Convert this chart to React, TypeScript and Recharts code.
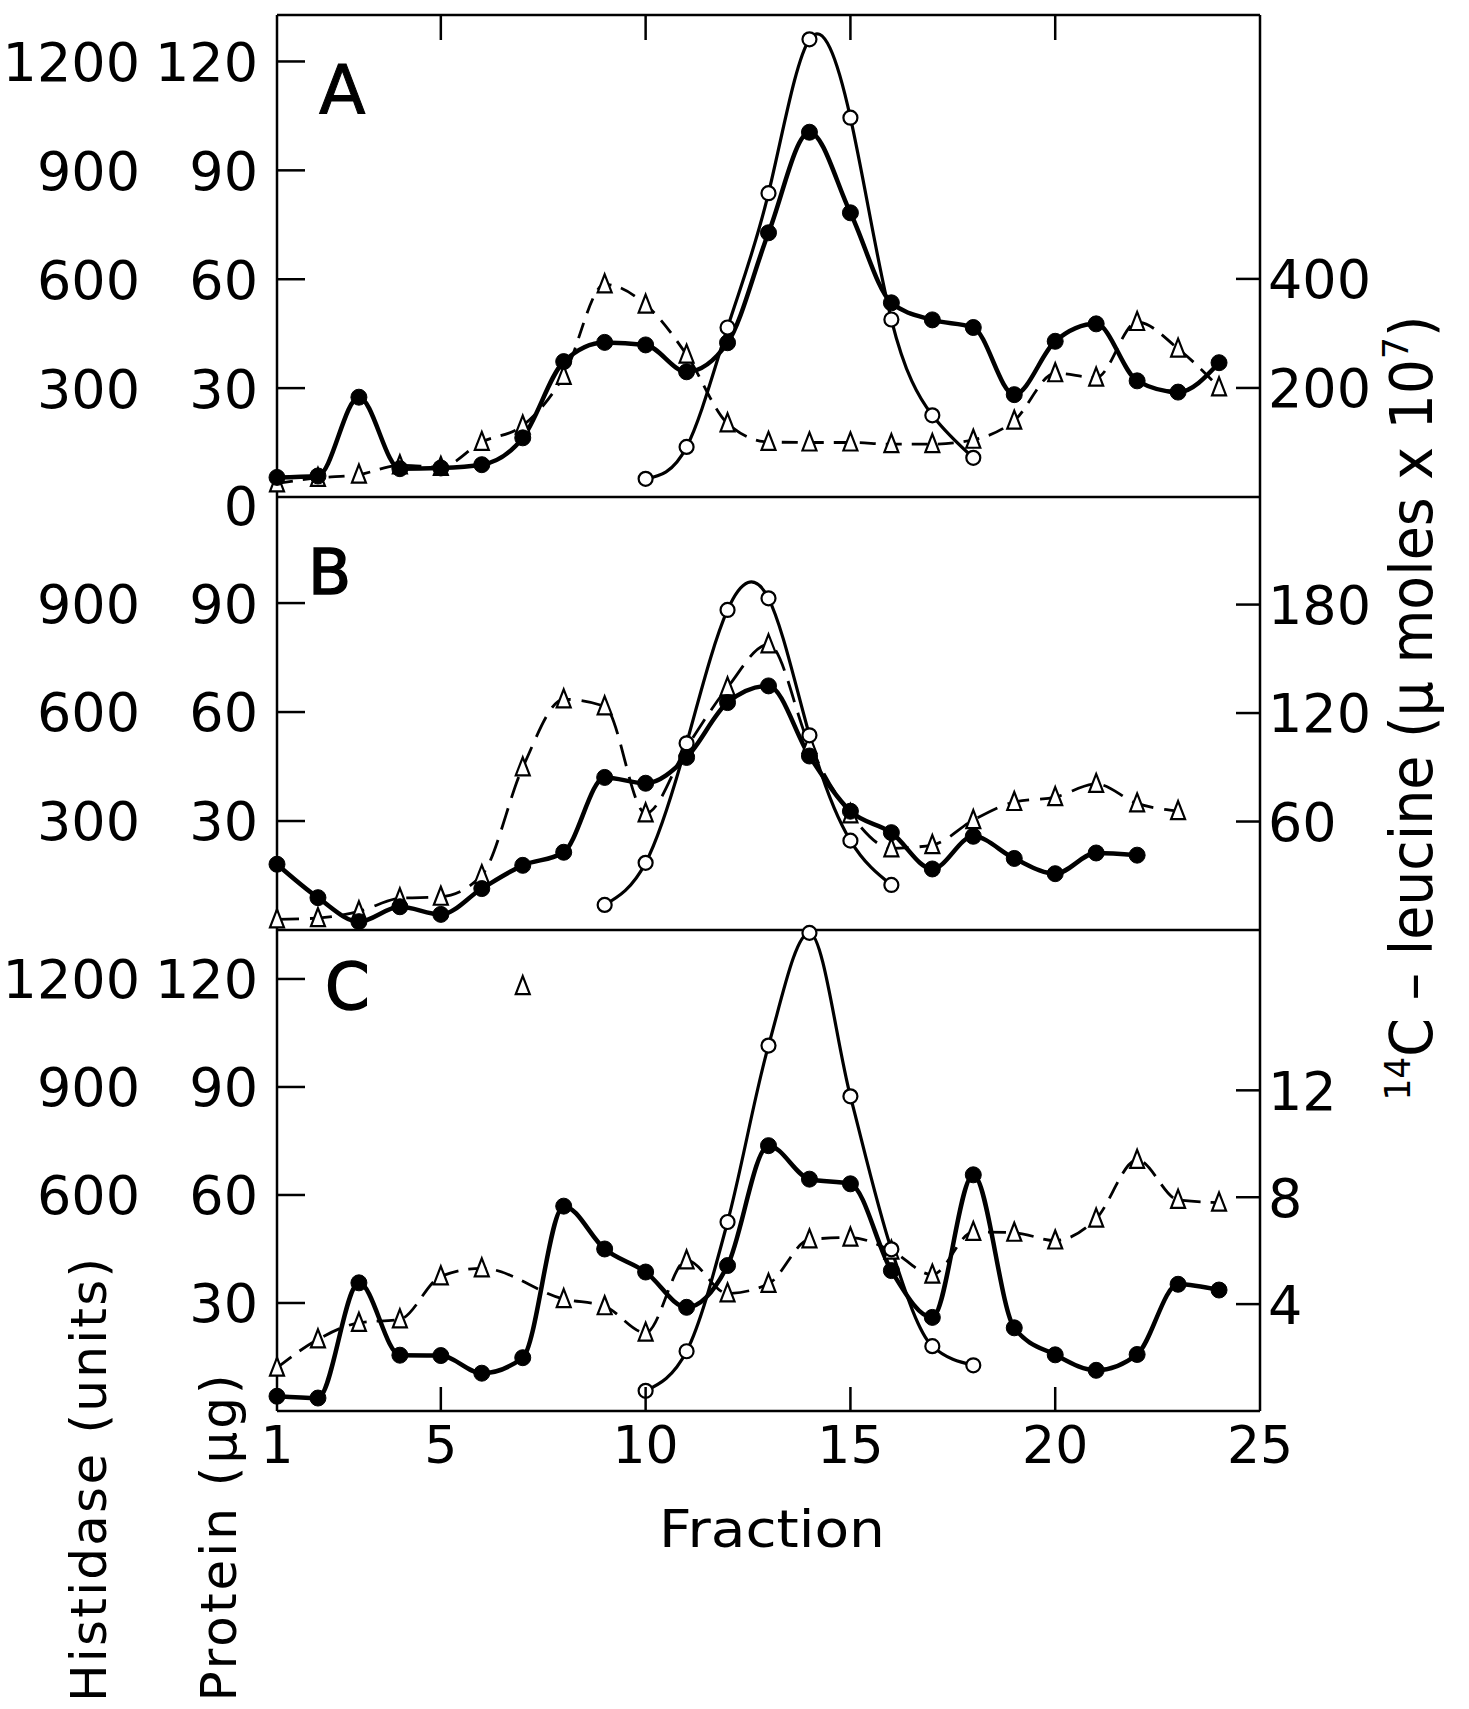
import { LineChart, Line, XAxis, YAxis } from 'recharts';

// fraction number on the x axis
const fractions = [1, 2, 3, 4, 5, 6, 7, 8, 9, 10, 11, 12, 13, 14, 15, 16, 17, 18, 19, 20, 21, 22, 23, 24];

// panel A
const proteinA = [5.4, 5.8, 27.5, 7.8, 8.0, 8.9, 16.3, 37.3, 42.6, 41.9, 34.5, 42.5, 72.8, 100.5, 78.3, 53.5, 48.8, 46.7, 28.2, 42.9, 47.7, 32.0, 28.9, 37.0];
const histidaseA = [null, null, null, null, null, null, null, null, null, 50, 138, 467, 837, 1261, 1045, 489, 225, 108, null, null, null, null, null, null];
const leucineA = [25, 35, 41, 58, 55, 101, 131, 222, 390, 353, 261, 135, 101, 100, 100, 97, 97, 105, 140, 227, 219, 321, 272, 201];

// panel B
const proteinB = [18.1, 8.9, 2.3, 6.4, 4.3, 11.4, 17.8, 21.4, 42.0, 40.4, 47.5, 62.6, 67.2, 47.9, 32.7, 26.8, 16.8, 25.8, 19.7, 15.5, 21.2, 20.6, null, null];
const histidaseB = [null, null, null, null, null, null, null, null, 69, 185, 514, 881, 913, 536, 246, 124, null, null, null, null, null, null, null, null];
const leucineB = [5.9, 6.6, 10.3, 17.5, 18.4, 30.3, 90, 127.6, 123.7, 64.5, 101, 134.2, 158, 102.3, 64, 45.2, 47, 60.8, 70.8, 73.5, 80.8, 70, 65.8, null];

// panel C
const proteinC = [4.1, 3.6, 35.6, 15.5, 15.4, 10.5, 14.8, 56.9, 45.0, 38.6, 28.8, 40.4, 73.7, 64.4, 63.1, 39.0, 26.0, 65.6, 23.1, 15.6, 11.3, 15.7, 35.2, 33.6];
const histidaseC = [null, null, null, null, null, null, null, null, null, 56, 166, 525, 1015, 1328, 874, 449, 180, 127, null, null, null, null, null, null];
const leucineC = [1.62, 2.68, 3.3, 3.43, 5.04, 5.34, null, 4.19, 3.92, 2.93, 5.64, 4.4, 4.76, 6.42, 6.49, 6.0, 5.1, 6.7, 6.67, 6.38, 7.2, 9.4, 7.9, 7.8];
const leucineCStray = [null, null, null, null, null, null, 15.9, null, null, null, null, null, null, null, null, null, null, null, null, null, null, null, null, null];

// tick labels
const proteinTicksA = [0, 30, 60, 90, 120];
const proteinTicksB = [30, 60, 90];
const proteinTicksC = [30, 60, 90, 120];
const histidaseTicksA = [300, 600, 900, 1200];
const histidaseTicksB = [300, 600, 900];
const histidaseTicksC = [600, 900, 1200];
const fractionTicks = [1, 5, 10, 15, 20, 25];
const innerFractionTicks = [5, 10, 15, 20];
const leucineTicksA = [200, 400];
const leucineTicksB = [60, 120, 180];
const leucineTicksC = [4, 8, 12];

const FONT = '"DejaVu Sans", "Liberation Sans", sans-serif';
const W = 1469;
const LEFT_W = 277;
const RIGHT_W = 209;
const PLOT_L = LEFT_W;
const PLOT_R = W - RIGHT_W;
const AXIS = { stroke: '#000', strokeWidth: 2.5 };
const noMargin = { top: 0, right: 0, bottom: 0, left: 0 };

const rows = (p: (number | null)[], h: (number | null)[], l: (number | null)[], s?: (number | null)[]) =>
  fractions.map((f, i) => ({
    fraction: f,
    protein: p[i],
    histidase: h[i],
    leucine: l[i],
    stray: s ? s[i] : null,
  }));

const rowsA = rows(proteinA, histidaseA, leucineA);
const rowsB = rows(proteinB, histidaseB, leucineB);
const rowsC = rows(proteinC, histidaseC, leucineC, leucineCStray);

const makeLeftTick = (his: number[]) => (p: any) => {
  const v = p.payload.value;
  const showHis = his.includes(v * 10);
  return (
    <g key={`l${v}`}>
      {v > 0 && <line x1={PLOT_L} x2={PLOT_L + 28} y1={p.y} y2={p.y} stroke="#000" strokeWidth={2.5} />}
      <text
        x={PLOT_L - 19}
        y={v === 0 ? p.y + 9 : p.y}
        dy="0.36em"
        textAnchor="end"
        fontSize={54}
        fontFamily={FONT}
        fill="#000"
      >
        {v}
      </text>
      {showHis && (
        <text x={140} y={p.y} dy="0.36em" textAnchor="end" fontSize={54} fontFamily={FONT} fill="#000">
          {v * 10}
        </text>
      )}
    </g>
  );
};

const renderRightTick = (p: any) => (
  <g key={`r${p.payload.value}`}>
    <line x1={PLOT_R - 24} x2={PLOT_R} y1={p.y} y2={p.y} stroke="#000" strokeWidth={2.5} />
    <text x={PLOT_R + 8} y={p.y} dy="0.36em" textAnchor="start" fontSize={54} fontFamily={FONT} fill="#000">
      {p.payload.value}
    </text>
  </g>
);

const renderTopTick = (p: any) => (
  <line key={`t${p.payload.value}`} x1={p.x} x2={p.x} y1={p.y} y2={p.y + 25} stroke="#000" strokeWidth={2.5} />
);

const renderBottomTick = (p: any) => {
  const v = p.payload.value;
  return (
    <g key={`b${v}`}>
      {v > 1 && v < 25 && <line x1={p.x} x2={p.x} y1={p.y} y2={p.y - 24} stroke="#000" strokeWidth={2.5} />}
      <text x={p.x} y={p.y + 52} textAnchor="middle" fontSize={52} fontFamily={FONT} fill="#000">
        {v}
      </text>
    </g>
  );
};

const triangleDot = (p: any) => {
  const { cx, cy, index, value } = p;
  if (cx == null || cy == null || value == null) return <g key={`d${index}`} />;
  return (
    <path
      key={`d${index}`}
      d={`M${cx},${cy - 10} L${cx + 7},${cy + 8} L${cx - 7},${cy + 8} Z`}
      fill="#fff"
      stroke="#000"
      strokeWidth={2.2}
    />
  );
};

function Panel({
  data,
  height,
  top,
  topAxisH,
  bottomAxisH,
  leftMax,
  rightMax,
  leftTicks,
  hisTicks,
  rightTicks,
  topTicks,
  showBottom,
  dash,
  hisCurve,
}: any) {
  return (
    <div style={{ position: 'absolute', left: 0, top }}>
      <LineChart width={W} height={height} data={data} margin={noMargin}>
        <XAxis
          xAxisId="top"
          dataKey="fraction"
          type="number"
          domain={[1, 25]}
          orientation="top"
          height={topAxisH}
          ticks={topTicks ?? []}
          interval={0}
          tick={topTicks ? renderTopTick : false}
          tickLine={false}
          tickSize={0}
          tickMargin={0}
          axisLine={AXIS}
        />
        {showBottom ? (
          <XAxis
            xAxisId="x"
            dataKey="fraction"
            type="number"
            domain={[1, 25]}
            orientation="bottom"
            height={bottomAxisH}
            ticks={fractionTicks}
            interval={0}
            tick={renderBottomTick}
            tickLine={false}
            tickSize={0}
            tickMargin={0}
            axisLine={AXIS}
          />
        ) : (
          <XAxis xAxisId="x" dataKey="fraction" type="number" domain={[1, 25]} hide height={0} />
        )}
        <YAxis
          yAxisId="histidase"
          type="number"
          domain={[0, leftMax * 10]}
          hide
          width={0}
          axisLine={false}
          tick={false}
        />
        <YAxis
          yAxisId="protein"
          orientation="left"
          type="number"
          width={LEFT_W}
          domain={[0, leftMax]}
          ticks={leftTicks}
          interval={0}
          tick={makeLeftTick(hisTicks)}
          tickLine={false}
          tickSize={0}
          tickMargin={0}
          axisLine={AXIS}
        />
        <YAxis
          yAxisId="leucine"
          orientation="right"
          type="number"
          width={RIGHT_W}
          domain={[0, rightMax]}
          ticks={rightTicks}
          interval={0}
          tick={renderRightTick}
          tickLine={false}
          tickSize={0}
          tickMargin={0}
          axisLine={AXIS}
        />
        <Line
          xAxisId="x"
          yAxisId="leucine"
          dataKey="leucine"
          type="monotone"
          stroke="#000"
          strokeWidth={2.8}
          strokeDasharray={dash}
          connectNulls
          dot={triangleDot}
          activeDot={false}
          isAnimationActive={false}
        />
        <Line
          xAxisId="x"
          yAxisId="leucine"
          dataKey="stray"
          stroke="none"
          dot={triangleDot}
          activeDot={false}
          isAnimationActive={false}
        />
        <Line
          xAxisId="x"
          yAxisId="histidase"
          dataKey="histidase"
          type={hisCurve}
          stroke="#000"
          strokeWidth={3.2}
          dot={{ r: 7, fill: '#fff', stroke: '#000', strokeWidth: 2.2 }}
          activeDot={false}
          isAnimationActive={false}
        />
        <Line
          xAxisId="x"
          yAxisId="protein"
          dataKey="protein"
          type="monotone"
          stroke="#000"
          strokeWidth={4.5}
          dot={{ r: 8, fill: '#000', stroke: '#000', strokeWidth: 1 }}
          activeDot={false}
          isAnimationActive={false}
        />
      </LineChart>
    </div>
  );
}

export default function App() {
  const t = { fontFamily: FONT, fill: '#000' };
  return (
    <div style={{ position: 'absolute', left: 0, top: 0, width: W, height: 1709, background: '#fff' }}>
      <style>{'svg.recharts-surface { overflow: visible; }'}</style>
      <Panel
        data={rowsA}
        top={0}
        height={497}
        topAxisH={15}
        leftMax={132.8}
        rightMax={884}
        leftTicks={proteinTicksA}
        hisTicks={histidaseTicksA}
        rightTicks={leucineTicksA}
        topTicks={innerFractionTicks}
        dash="16 10"
        hisCurve="natural"
      />
      <Panel
        data={rowsB}
        top={477}
        height={453}
        topAxisH={20}
        leftMax={119.2}
        rightMax={239.5}
        leftTicks={proteinTicksB}
        hisTicks={histidaseTicksB}
        rightTicks={leucineTicksB}
        dash="22 11"
        hisCurve="natural"
      />
      <Panel
        data={rowsC}
        top={910}
        height={581}
        topAxisH={20}
        bottomAxisH={80}
        leftMax={133.6}
        rightMax={18}
        leftTicks={proteinTicksC}
        hisTicks={histidaseTicksC}
        rightTicks={leucineTicksC}
        showBottom
        dash="18 10"
        hisCurve="monotone"
      />
      <svg width={W} height={1709} style={{ position: 'absolute', left: 0, top: 0, pointerEvents: 'none' }}>
        <text x={319} y={114} fontSize={68} {...t} stroke="#000" strokeWidth={1}>A</text>
        <text x={308} y={594} fontSize={63} {...t} stroke="#000" strokeWidth={1.5}>B</text>
        <text x={325} y={1009} fontSize={64} {...t} stroke="#000" strokeWidth={1.5}>C</text>
        <text
          x={88}
          y={1480}
          fontSize={50}
          textAnchor="middle"
          dy="0.36em"
          textLength={444}
          lengthAdjust="spacing"
          transform="rotate(-90 88 1480)"
          {...t}
        >
          Histidase (units)
        </text>
        <text
          x={218}
          y={1538}
          fontSize={50}
          textAnchor="middle"
          dy="0.36em"
          textLength={327}
          lengthAdjust="spacing"
          transform="rotate(-90 218 1538)"
          {...t}
        >
          Protein (μg)
        </text>
        <text
          x={1432}
          y={708}
          fontSize={58}
          textAnchor="middle"
          dy="0.36em"
          textLength={785}
          lengthAdjust="spacingAndGlyphs"
          transform="rotate(-90 1432 708)"
          {...t}
        >
          <tspan fontSize={36} dy={-22}>14</tspan>
          <tspan dy={22}>C – leucine (μ moles x 10</tspan>
          <tspan fontSize={36} dy={-24}>7</tspan>
          <tspan dy={24}>)</tspan>
        </text>
        <text x={772} y={1547} fontSize={52} textAnchor="middle" textLength={226} lengthAdjust="spacingAndGlyphs" {...t}>
          Fraction
        </text>
      </svg>
    </div>
  );
}
